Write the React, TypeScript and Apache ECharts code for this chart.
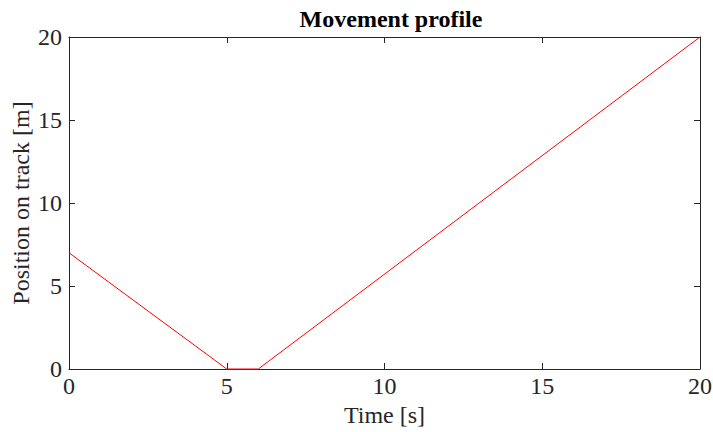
import React, { useEffect, useRef } from "react";
import * as echarts from "echarts";

const timeValues = [0, 5, 6, 20];
const positionValues = [7, 0, 0, 20];
const xTicks = [0, 5, 10, 15, 20];
const yTicks = [0, 5, 10, 15, 20];

const FONT = "'Liberation Serif', 'Times New Roman', serif";
const AXIS_COLOR = "#262626";

export default function App() {
  const ref = useRef<HTMLDivElement>(null);
  useEffect(() => {
    if (!ref.current) return;
    const chart = echarts.init(ref.current, undefined, { renderer: "svg" });
    const baseAxis = (show: boolean) => ({
      type: "value" as const,
      min: 0,
      max: 20,
      interval: 5,
      axisLine: { show: true, onZero: false, lineStyle: { color: AXIS_COLOR, width: 1 } },
      axisTick: { show: true, inside: true, length: 6, lineStyle: { color: AXIS_COLOR } },
      axisLabel: {
        show,
        color: "#262626",
        fontFamily: FONT,
        fontSize: 24,
        margin: 6,
      },
      splitLine: { show: false },
    });
    chart.setOption({
      animation: false,
      backgroundColor: "#ffffff",
      title: {
        text: "Movement profile",
        left: 386,
        top: 2,
        textAlign: "center",
        textStyle: { fontFamily: FONT, fontSize: 24, fontWeight: "bold", color: "#000" },
      },
      grid: { left: 69, right: 13, top: 37, bottom: 63, containLabel: false, outerBoundsMode: "none" },
      xAxis: [
        {
          ...baseAxis(true),
          position: "bottom",
          name: "Time [s]",
          nameLocation: "middle",
          nameGap: 34,
          nameTextStyle: { fontFamily: FONT, fontSize: 24, color: "#262626" },
          axisLabel: { ...baseAxis(true).axisLabel, margin: 5, formatter: (v: number) => (xTicks.includes(v) ? String(v) : "") },
        },
        { ...baseAxis(false), position: "top" },
      ],
      yAxis: [
        {
          ...baseAxis(true),
          position: "left",
          name: "Position on track [m]",
          nameLocation: "middle",
          nameGap: 36,
          nameMoveOverlap: false,
          nameTextStyle: { fontFamily: FONT, fontSize: 24, color: "#262626" },
          axisLabel: { ...baseAxis(true).axisLabel, margin: 7, formatter: (v: number) => (yTicks.includes(v) ? String(v) : "") },
        },
        { ...baseAxis(false), position: "right" },
      ],
      series: [
        {
          type: "line",
          data: timeValues.map((t, i) => [t, positionValues[i]]),
          showSymbol: false,
          symbol: "none",
          lineStyle: { color: "#ff0000", width: 1 },
          clip: false,
        },
      ],
    });
    return () => chart.dispose();
  }, []);
  return <div ref={ref} style={{ width: 713, height: 432, position: "absolute", left: 0, top: 0 }} />;
}
